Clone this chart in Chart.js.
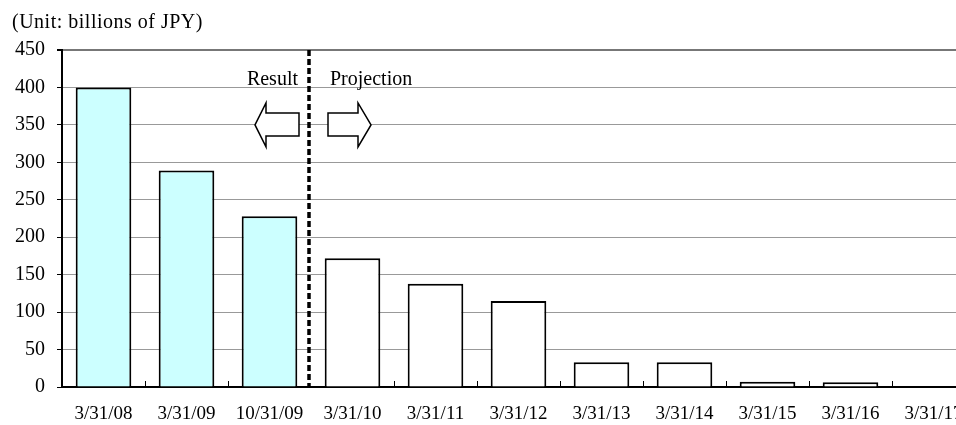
<!DOCTYPE html>
<html>
<head>
<meta charset="utf-8">
<script src="https://cdn.jsdelivr.net/npm/chart.js@4.4.1/dist/chart.umd.min.js"></script>
<style>
    html, body { margin: 0; padding: 0; background: #fff; overflow: hidden; }
    #wrap { position: absolute; left: 0; top: 0; width: 990px; height: 425px; }
</style>
</head>
<body>
<div id="wrap"><canvas id="myChart"></canvas></div>
<script>
// data
const dates = ['3/31/08', '3/31/09', '10/31/09', '3/31/10', '3/31/11', '3/31/12',
    '3/31/13', '3/31/14', '3/31/15', '3/31/16', '3/31/17'];
const balances = [400, 289, 228, 172, 138, 115, 33, 33, 7, 6.5, 0];
const resultCount = 3; // first three bars are actual results
const yTicks = [0, 50, 100, 150, 200, 250, 300, 350, 400, 450];

const serif = "'Liberation Serif', 'Times New Roman', serif";

const fills = balances.map((v, i) => i < resultCount ? '#ccffff' : '#ffffff');

// title, dashed divider, arrows, small upward x ticks
const extras = {
    id: 'extras',
    afterDatasetsDraw(chart) {
        const ctx = chart.ctx;
        const x = chart.scales.x;
        const y = chart.scales.y;
        const area = chart.chartArea;
        ctx.save();

        // x axis small ticks pointing up
        ctx.strokeStyle = '#000';
        ctx.lineWidth = 1;
        for (let i = 0; i < dates.length - 1; i++) {
            if (i === resultCount - 1) continue;
            const px = Math.round(x.getPixelForValue(i + 0.5)) + 0.5;
            ctx.beginPath();
            ctx.moveTo(px, area.bottom);
            ctx.lineTo(px, area.bottom - 6);
            ctx.stroke();
        }

        // dashed divider between result and projection
        const dx = x.getPixelForValue(resultCount - 0.5) - 2;
        ctx.setLineDash([6, 3]);
        ctx.lineWidth = 3.5;
        ctx.beginPath();
        ctx.moveTo(dx, area.top);
        ctx.lineTo(dx, area.bottom);
        ctx.stroke();
        ctx.setLineDash([]);

        // labels
        ctx.fillStyle = '#000';
        ctx.font = '20px ' + serif;
        ctx.textBaseline = 'alphabetic';
        ctx.textAlign = 'right';
        ctx.fillText('Result', dx - 11, 85);
        ctx.textAlign = 'left';
        ctx.fillText('Projection', dx + 21, 85);

        // arrows
        const cy = y.getPixelForValue(350);
        ctx.lineWidth = 1.5;
        ctx.fillStyle = '#fff';
        const arrow = (tipX, baseX, endX) => {
            ctx.beginPath();
            ctx.moveTo(tipX, cy);
            ctx.lineTo(baseX, cy - 22);
            ctx.lineTo(baseX, cy - 12);
            ctx.lineTo(endX, cy - 12);
            ctx.lineTo(endX, cy + 11);
            ctx.lineTo(baseX, cy + 11);
            ctx.lineTo(baseX, cy + 22);
            ctx.closePath();
            ctx.fill();
            ctx.stroke();
        };
        arrow(dx - 54, dx - 43, dx - 10);
        arrow(dx + 62, dx + 49, dx + 19);

        // unit title
        ctx.fillStyle = '#000';
        ctx.font = '20px ' + serif;
        ctx.letterSpacing = '0.5px';
        ctx.textAlign = 'left';
        ctx.fillText('(Unit: billions of JPY)', 12, 28);

        ctx.restore();
    }
};

const myChart = document.getElementById('myChart');

let barChart = new Chart(myChart, {
    type: 'bar',
    data: {
        labels: dates,
        datasets: [{
            data: balances,
            backgroundColor: fills,
            borderColor: '#000',
            borderWidth: 2,
            categoryPercentage: 1,
            barPercentage: 0.67
        }]
    },
    options: {
        responsive: true,
        maintainAspectRatio: false,
        animation: false,
        layout: {
            padding: { top: 50, right: 15, left: 0, bottom: 0 }
        },
        plugins: {
            legend: { display: false },
            tooltip: { enabled: false }
        },
        scales: {
            x: {
                afterFit(scale) { scale.height = 38; },
                grid: { display: false, drawTicks: false },
                border: { color: '#000', width: 2 },
                ticks: {
                    color: '#000',
                    padding: 17,
                    maxRotation: 0,
                    autoSkip: false,
                    font: { family: serif, size: 19, lineHeight: 1.1 }
                }
            },
            y: {
                min: 0,
                max: 450,
                afterFit(scale) { scale.width = 62; },
                afterBuildTicks(scale) { scale.ticks = yTicks.map(v => ({ value: v })); },
                grid: {
                    color: ctx => ctx.tick && ctx.tick.value === 450 ? '#777' : '#999',
                    lineWidth: ctx => ctx.tick && ctx.tick.value === 450 ? 2 : 1,
                    tickColor: '#000',
                    tickLength: 5
                },
                border: { color: '#000', width: 2 },
                ticks: {
                    color: '#000',
                    padding: 12,
                    font: { family: serif, size: 20 }
                }
            }
        }
    },
    plugins: [extras]
});
</script>
</body>
</html>
